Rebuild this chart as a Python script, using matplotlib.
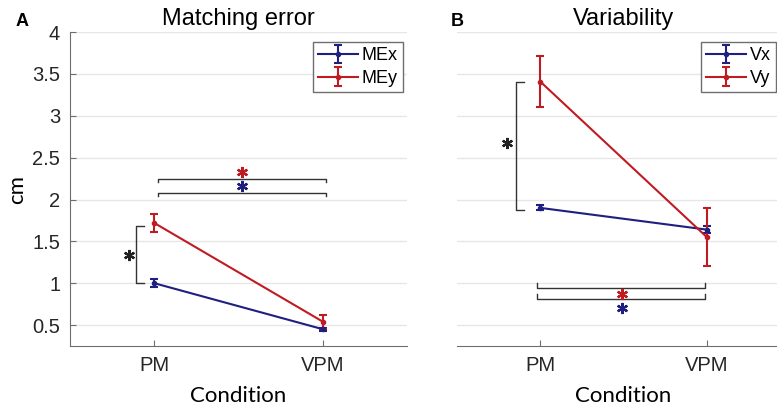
import matplotlib
matplotlib.use("Agg")
import matplotlib.pyplot as plt

conditions = ["PM", "VPM"]

# Matching error (cm)
me_x = [1.00, 0.45]
me_x_err = [0.05, 0.02]
me_y = [1.72, 0.54]
me_y_err = [0.11, 0.085]

# Variability (cm)
v_x = [1.90, 1.64]
v_x_err = [0.03, 0.04]
v_y = [3.41, 1.55]
v_y_err = [0.31, 0.35]

BLUE = "#1f1f80"
RED = "#c01a22"
GRAY = "#6e6e6e"
GRID = "#e6e6e6"

plt.rcParams["font.family"] = ["Liberation Sans", "DejaVu Sans"]

fig = plt.figure(figsize=(7.77, 4.07), dpi=100)
ax_a = fig.add_axes([0.090, 0.150, 0.434, 0.771])
ax_b = fig.add_axes([0.588, 0.150, 0.429, 0.771])

xs = [1, 2]


def style_axis(ax, show_y):
    ax.set_xlim(0.5, 2.5)
    ax.set_ylim(0.25, 4)
    ax.set_xticks(xs)
    ax.set_xticklabels(conditions, fontsize=14.5, color="#262626")
    ax.set_yticks([0.5, 1, 1.5, 2, 2.5, 3, 3.5, 4])
    ax.set_yticklabels(["0.5", "1", "1.5", "2", "2.5", "3", "3.5", "4"],
                       fontsize=14.5, color="#262626")
    ax.grid(axis="y", color=GRID, linewidth=1.0)
    ax.set_axisbelow(True)
    for s in ["top", "right"]:
        ax.spines[s].set_visible(False)
    ax.spines["bottom"].set_color(GRAY)
    ax.spines["left"].set_color(GRAY)
    ax.tick_params(axis="both", direction="in", length=4, color=GRAY, pad=7)
    if not show_y:
        ax.spines["left"].set_visible(False)
        ax.tick_params(axis="y", left=False, labelleft=False)
    ax.set_xlabel("Condition", fontsize=16, family=["Lato", "DejaVu Sans"],
                  labelpad=8)


def draw_series(ax, y, err, color, label):
    ax.errorbar(xs, y, yerr=err, color=color, ecolor=color, linewidth=1.5,
                elinewidth=1.5, capsize=3, capthick=1.5, marker="o",
                markersize=3, label=label)


def hbracket(ax, x0, x1, y, tick, color="#333333"):
    ax.plot([x0, x0, x1, x1], [y - tick, y, y, y - tick], color=color,
            linewidth=1.0, clip_on=False)


def vbracket(ax, x, y0, y1, tick=0.05):
    ax.plot([x + tick, x, x, x + tick], [y0, y0, y1, y1], color="#333333",
            linewidth=1.0, clip_on=False)


def star(ax, x, y, color):
    ax.plot([x], [y], marker=(6, 2, 0), markersize=8, color=color,
            markeredgewidth=1.6, linestyle="none")


leg_kw = dict(fontsize=13, handlelength=2.2, handletextpad=0.2,
              borderpad=0.3, labelspacing=0.3, fancybox=False,
              framealpha=1, edgecolor=GRAY, borderaxespad=0)

# Panel A
style_axis(ax_a, True)
draw_series(ax_a, me_x, me_x_err, BLUE, "MEx")
draw_series(ax_a, me_y, me_y_err, RED, "MEy")
ax_a.set_ylabel("cm", fontsize=16, family=["Lato", "DejaVu Sans"], labelpad=4)
ax_a.set_title("Matching error", fontsize=17, pad=5)
hbracket(ax_a, 1.02, 2.02, 2.25, 0.04)
hbracket(ax_a, 1.02, 2.02, 2.08, 0.04)
star(ax_a, 1.52, 2.33, RED)
star(ax_a, 1.52, 2.16, BLUE)
vbracket(ax_a, 0.89, 1.0, 1.68)
star(ax_a, 0.85, 1.34, "#222222")
ax_a.legend(loc="upper left", bbox_to_anchor=(313 / 777, 1 - 42 / 407),
            bbox_transform=fig.transFigure, **leg_kw)
fig.text(0.020, 0.935, "A", fontsize=13, fontweight="bold")

# Panel B
style_axis(ax_b, False)
draw_series(ax_b, v_x, v_x_err, BLUE, "Vx")
draw_series(ax_b, v_y, v_y_err, RED, "Vy")
ax_b.set_title("Variability", fontsize=17, pad=5)
hbracket(ax_b, 0.98, 1.99, 0.94, -0.06)
hbracket(ax_b, 0.98, 1.99, 0.81, -0.06)
star(ax_b, 1.49, 0.87, RED)
star(ax_b, 1.49, 0.70, BLUE)
vbracket(ax_b, 0.855, 1.88, 3.40)
star(ax_b, 0.80, 2.68, "#222222")
ax_b.legend(loc="upper left", bbox_to_anchor=(701 / 777, 1 - 42 / 407),
            bbox_transform=fig.transFigure, **leg_kw)
fig.text(0.580, 0.937, "B", fontsize=13, fontweight="bold")

fig.savefig("out.png", dpi=100)
